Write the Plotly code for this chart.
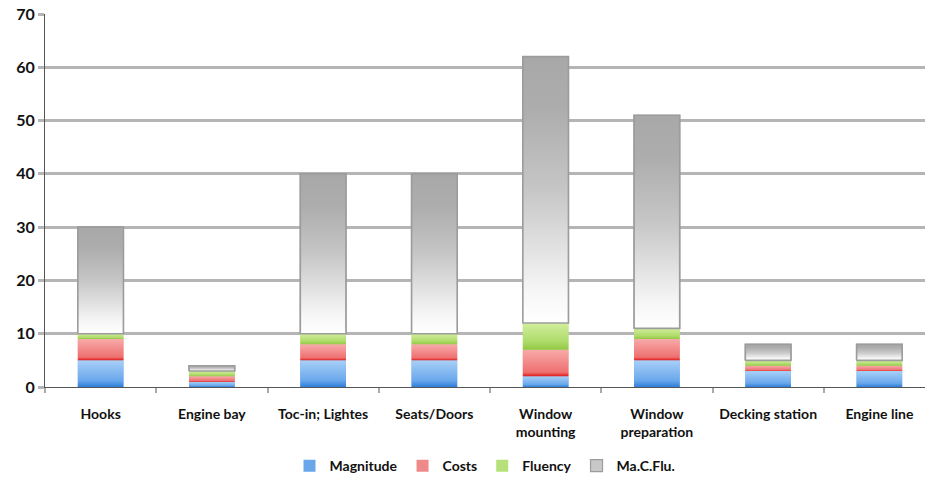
import plotly.graph_objects as go

# Workstation categories and stacked component scores
categories = ["Hooks", "Engine bay", "Toc-in; Lightes", "Seats/Doors",
              "Window<br>mounting", "Window<br>preparation", "Decking station", "Engine line"]
magnitude = [5, 1, 5, 5, 2, 5, 3, 3]
costs = [4, 1, 3, 3, 5, 4, 1, 1]
fluency = [1, 1, 2, 2, 5, 2, 1, 1]
macflu = [20, 1, 30, 30, 50, 40, 3, 3]
y_ticks = [0, 10, 20, 30, 40, 50, 60, 70]

series = [
    ("Magnitude", magnitude, "#6aa6ea", [[0, "#2f7fd8"], [0.25, "#6aa8ec"], [1, "#a8d0f7"]], None),
    ("Costs", costs, "#f08a8a", [[0, "#e01818"], [0.15, "#ee7070"], [1, "#f8aaaa"]], None),
    ("Fluency", fluency, "#b5e07a", [[0, "#92c842"], [0.3, "#aedb6a"], [1, "#d2ee9c"]], None),
    ("Ma.C.Flu.", macflu, "#c8c8c8", [[0, "#ffffff"], [0.12, "#f6f6f6"], [0.5, "#c6c6c6"],
                                       [0.8, "#adadad"], [1, "#a8a8a8"]], "#9c9c9c"),
]

BAR_W = 0.41
xs = list(range(len(categories)))

fig = go.Figure()
base = [0] * len(categories)

for name, vals, solid, scale, edge in series:
    # the stacked bar itself
    fig.add_trace(go.Bar(
        x=xs, y=vals, base=list(base), width=BAR_W, name=name,
        marker=dict(color=solid, line=dict(color=edge or solid, width=1.2 if edge else 0)),
        hoverinfo="skip",
    ))
    # vertical shading laid over each segment
    for i, v in enumerate(vals):
        b0, b1 = base[i], base[i] + v
        fig.add_trace(go.Scatter(
            x=[i - BAR_W / 2, i + BAR_W / 2, i + BAR_W / 2, i - BAR_W / 2, i - BAR_W / 2],
            y=[b0, b0, b1, b1, b0],
            mode="lines", fill="toself",
            fillgradient=dict(type="vertical", colorscale=scale),
            line=dict(color=edge if edge else "rgba(0,0,0,0)", width=1.6 if edge else 0),
            showlegend=False, hoverinfo="skip",
        ))
    base = [base[i] + vals[i] for i in range(len(vals))]

fig.update_layout(
    width=925, height=477,
    margin=dict(l=45, r=0, t=14, b=90, autoexpand=False),
    paper_bgcolor="white", plot_bgcolor="white",
    barmode="overlay",
    font=dict(family="Lato", color="#111111"),
    showlegend=True,
    legend=dict(orientation="h", x=0.5, xanchor="center",
                yref="container", y=0.023, yanchor="middle",
                font=dict(size=14, weight="bold"), traceorder="normal",
                itemwidth=30, tracegroupgap=0),
)

fig.update_xaxes(
    range=[-0.5, 7.41],
    tickmode="array", tickvals=xs, ticktext=categories,
    tickfont=dict(size=14, weight="bold", color="#111111"),
    ticklabelstandoff=14,
    ticks="", showgrid=False, zeroline=False,
    showline=True, linecolor="#555555", linewidth=1.2,
    minor=dict(tickmode="linear", tick0=0.5, dtick=1, ticks="outside",
               ticklen=5, tickwidth=2, tickcolor="#aaaaaa", showgrid=False),
)

fig.update_yaxes(
    range=[0, 70],
    tickmode="array", tickvals=y_ticks,
    tickfont=dict(size=16, weight="bold", color="#111111"),
    showgrid=True, gridcolor="#b5b5b5", gridwidth=2.5,
    ticks="outside", ticklen=6, tickwidth=2.5, tickcolor="#b5b5b5",
    zeroline=False,
    showline=True, linecolor="#555555", linewidth=1.2,
)

fig.write_html("out.html")
